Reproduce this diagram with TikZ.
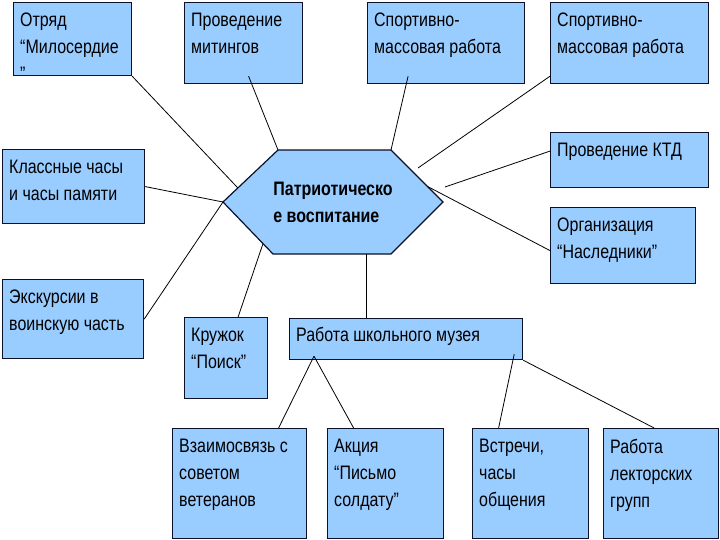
\documentclass[tikz,border=0pt]{standalone}
\usepackage{fontspec}
\setmainfont[FakeStretch=0.82]{Liberation Sans}
\usepackage{tikz}
\usetikzlibrary{positioning,calc}
\usepackage{xcolor}
\definecolor{PlanBlue}{RGB}{153,204,255}
\definecolor{PlanEdge}{RGB}{12,16,40}

\begin{document}
\begin{tikzpicture}[x=1pt,y=-1pt,
box/.style={rectangle,draw=PlanEdge,fill=PlanBlue,line width=1.2pt,anchor=north west,inner sep=0pt},
boxtext/.style={anchor=north west,align=left,inner xsep=7pt,inner ysep=11pt,font=\fontsize{19.5}{27}\selectfont},
hexa/.style={draw=PlanEdge,fill=PlanBlue,line width=1.2pt,line join=miter},
link/.style={draw=black,line width=0.8pt}
]
\useasboundingbox (0,0) rectangle (720,540);

% central hexagon
\coordinate (hW) at (223,202); \coordinate (hNW) at (278,150);
\coordinate (hNE) at (391,150); \coordinate (hE) at (443,202);
\coordinate (hSE) at (391,254); \coordinate (hSW) at (273,254);
\filldraw[hexa] (hW)--(hNW)--(hNE)--(hE)--(hSE)--(hSW)--cycle;
\node[align=left,font=\bfseries\fontsize{19.5}{27}\selectfont] (patr) at (333,202) {Патриотическо\\е воспитание};

% top row
\node[box,minimum width=118pt,minimum height=73pt] (otryad) at (13,2) {};
\node[boxtext] (otryadT) at (otryad.north west) {Отряд\\``Милосердие\\''};
\node[box,minimum width=118pt,minimum height=81pt] (mitingi) at (184,2) {};
\node[boxtext] (mitingiT) at (mitingi.north west) {Проведение\\митингов};
\node[box,minimum width=157pt,minimum height=81pt] (sport1) at (367,2) {};
\node[boxtext] (sport1T) at (sport1.north west) {Спортивно-\\массовая работа};
\node[box,minimum width=158pt,minimum height=81pt] (sport2) at (550,2) {};
\node[boxtext] (sport2T) at (sport2.north west) {Спортивно-\\массовая работа};

% left and right columns
\node[box,minimum width=142pt,minimum height=74pt] (klass) at (2,149) {};
\node[boxtext] (klassT) at (klass.north west) {Классные часы\\и часы памяти};
\node[box,minimum width=141pt,minimum height=79pt] (ekskurs) at (2,279) {};
\node[boxtext] (ekskursT) at (ekskurs.north west) {Экскурсии в\\воинскую часть};
\node[box,minimum width=158pt,minimum height=55pt] (ktd) at (550,132) {};
\node[boxtext] (ktdT) at (ktd.north west) {Проведение КТД};
\node[box,minimum width=145pt,minimum height=76pt] (nasl) at (550,207) {};
\node[boxtext] (naslT) at (nasl.north west) {Организация\\``Наследники''};

% middle row
\node[box,minimum width=83pt,minimum height=81pt] (kruzhok) at (184,317) {};
\node[boxtext] (kruzhokT) at (kruzhok.north west) {Кружок\\``Поиск''};
\node[box,minimum width=233pt,minimum height=41pt] (muzey) at (289,318) {};
\node[boxtext,inner ysep=9pt] (muzeyT) at (muzey.north west) {Работа школьного музея};

% bottom row
\node[box,minimum width=134pt,minimum height=110pt] (vzaim) at (172,428) {};
\node[boxtext] (vzaimT) at (vzaim.north west) {Взаимосвязь с\\советом\\ветеранов};
\node[box,minimum width=116pt,minimum height=110pt] (akcia) at (327,428) {};
\node[boxtext] (akciaT) at (akcia.north west) {Акция\\``Письмо\\солдату''};
\node[box,minimum width=116pt,minimum height=110pt] (vstrechi) at (472,428) {};
\node[boxtext] (vstrechiT) at (vstrechi.north west) {Встречи,\\часы\\общения};
\node[box,minimum width=115pt,minimum height=110pt] (lektor) at (603,428) {};
\node[boxtext] (lektorT) at (lektor.north west) {Работа\\лекторских\\групп};

% connector ends
\coordinate (eOtr) at ($(hW)!0.27!(hNW)$);
\coordinate (eSp2) at (418,168);
\coordinate (eKtd) at (445,187);
\coordinate (eNasl) at ($(hNE)!0.7!(hE)$);
\coordinate (eKr) at ($(hW)!0.8!(hSW)$);
\coordinate (eMuz) at ($(hSW)!0.79!(hSE)$);
\coordinate (mL) at ([xshift=25pt,yshift=4pt]muzey.south west);
\coordinate (mR) at ([xshift=-9pt,yshift=6pt]muzey.south east);

\draw[link] (otryad.south east)--(eOtr);
\draw[link] ([xshift=5pt,yshift=8pt]mitingi.south)--(hNW);
\draw[link] ([xshift=-38pt,yshift=8pt]sport1.south)--(hNE);
\draw[link] ([yshift=8pt]sport2.south west)--(eSp2);
\draw[link] ([yshift=9pt]ktd.west)--(eKtd);
\draw[link] ([yshift=-5pt]nasl.west)--(eNasl);
\draw[link] (klass.east)--(hW);
\draw[link] (ekskurs.east)--(hW);
\draw[link] ([xshift=12pt]kruzhok.north)--(eKr);
\draw[link] (eMuz)--(eMuz |- muzey.north);
\draw[link] (mL)--([xshift=39pt]vzaim.north);
\draw[link] (mL)--([xshift=-32pt]akcia.north);
\draw[link] (mR)--([xshift=-32pt]vstrechi.north);
\draw[link] (muzey.south east)--([xshift=-7pt]lektor.north);
\end{tikzpicture}
\end{document}
